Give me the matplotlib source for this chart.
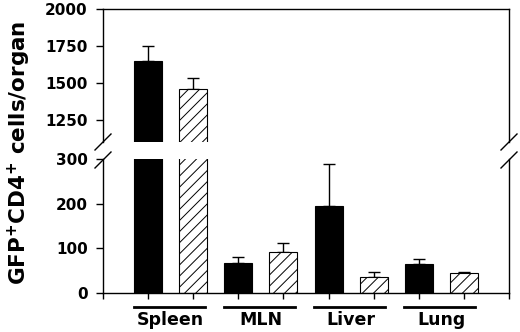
import matplotlib
matplotlib.use("Agg")
import matplotlib.pyplot as plt
from matplotlib.lines import Line2D
import numpy as np

plt.rcParams['font.family'] = ['DejaVu Sans']
plt.rcParams['mathtext.default'] = 'bf'
plt.rcParams['hatch.linewidth'] = 0.7
plt.rcParams['hatch.color'] = '#333333'

organs = ["Spleen", "MLN", "Liver", "Lung"]
solid_vals = [1645, 68, 195, 64]
solid_err = [105, 13, 94, 13]
hatch_vals = [1462, 91, 36, 44]
hatch_err = [72, 22, 12, 4]

top_lim = (1100, 2000)
top_ticks = [1250, 1500, 1750, 2000]
bot_lim = (0, 300)
bot_ticks = [0, 100, 200, 300]

W, H = 520, 332
fig = plt.figure(figsize=(W / 100, H / 100), dpi=100)

L, R = 103 / W, 509 / W
ax_top = fig.add_axes([L, 1 - 142 / H, R - L, (142 - 9) / H])
ax_bot = fig.add_axes([L, 1 - 293 / H, R - L, (293 - 159) / H])

n = len(organs)
xs_solid = np.arange(n) * 2
xs_hatch = xs_solid + 1
width = 0.62

for ax in (ax_top, ax_bot):
    ax.bar(xs_solid, solid_vals, width, color='black', edgecolor='black', linewidth=0.8, zorder=2)
    ax.bar(xs_hatch, hatch_vals, width, color='white', edgecolor='black', linewidth=0.8,
           hatch='///', zorder=2)
    ax.errorbar(xs_solid, solid_vals, yerr=[np.zeros(n), solid_err], fmt='none',
                ecolor='black', elinewidth=1, capsize=4.5, capthick=1, zorder=1)
    ax.errorbar(xs_hatch, hatch_vals, yerr=[np.zeros(n), hatch_err], fmt='none',
                ecolor='black', elinewidth=1, capsize=4.5, capthick=1, zorder=1)
    ax.set_xlim(-1, 2 * n)
    for s in ax.spines.values():
        s.set_linewidth(1.0)
    ax.tick_params(axis='y', direction='out', length=5, width=1, pad=6)

ax_top.set_ylim(*top_lim)
ax_top.set_yticks(top_ticks)
ax_top.set_yticklabels([str(t) for t in top_ticks], fontweight='bold', fontsize=11)
ax_top.spines['bottom'].set_visible(False)
ax_top.tick_params(axis='x', bottom=False, labelbottom=False)

ax_bot.set_ylim(*bot_lim)
ax_bot.set_yticks(bot_ticks)
ax_bot.set_yticklabels([str(t) for t in bot_ticks], fontweight='bold', fontsize=11)
ax_bot.spines['top'].set_visible(False)
ax_bot.set_xticks(np.arange(-1, 2 * n + 1))
ax_bot.tick_params(axis='x', direction='out', length=4, width=1, labelbottom=False)

# break marks
for xpx in (103, 509):
    for ypx in (142, 160):
        x0, x1 = (xpx - 8) / W, (xpx + 8) / W
        y0, y1 = 1 - (ypx + 8) / H, 1 - (ypx - 8) / H
        fig.add_artist(Line2D([x0, x1], [y0, y1], color='black', lw=1.0))

# group underline and labels
trans = ax_bot.get_xaxis_transform()
line_y = -(307 - 293) / (293 - 159)
text_y = -(320 - 293) / (293 - 159)
for i, name in enumerate(organs):
    xa, xb = xs_solid[i] - 0.32, xs_hatch[i] + 0.25
    ax_bot.plot([xa, xb], [line_y, line_y], color='black', lw=2, transform=trans, clip_on=False)
    ax_bot.text((xs_solid[i] + xs_hatch[i]) / 2, text_y, name, transform=trans,
                ha='center', va='center', fontsize=12.5, fontweight='bold')

fig.text(19 / W, 1 - 153 / H, r"GFP$^{+}$CD4$^{+}$ cells/organ",
         rotation=90, ha='center', va='center', fontsize=15.5, fontweight='bold')

fig.savefig("out.png", dpi=100)
